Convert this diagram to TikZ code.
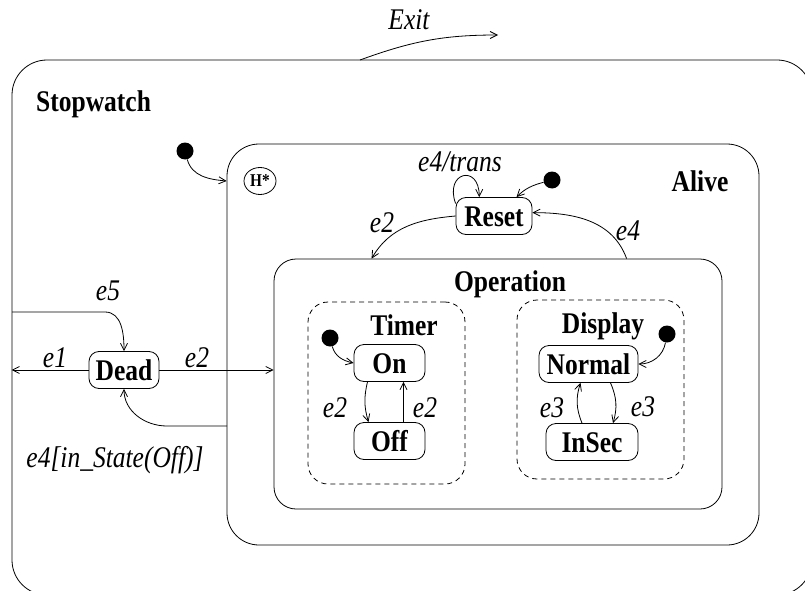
\documentclass[tikz,border=0pt]{standalone}
\usepackage{fontspec}
\newfontfamily\chartfont[FakeStretch=0.85]{Liberation Serif}
\usetikzlibrary{arrows.meta,shapes.geometric,fit,positioning}

\begin{document}
\begin{tikzpicture}[
    x=1pt, y=1pt,
    container/.style={draw, line width=0.8pt, inner sep=0pt},
    region/.style={draw, dash pattern=on 5pt off 4pt, line width=0.8pt, rounded corners=20pt, inner sep=0pt},
    statebox/.style={draw, line width=0.8pt, rounded corners=10pt, minimum height=37pt, inner xsep=6pt, inner ysep=0pt,
        text height=20pt, text depth=0pt, font=\fontsize{30}{30}\chartfont\bfseries},
    history/.style={ellipse, draw, line width=0.8pt, minimum width=32pt, minimum height=27pt, inner sep=0pt,
        font=\fontsize{18}{18}\chartfont\bfseries},
    title/.style={inner sep=0pt, text height=20pt, text depth=0pt, font=\fontsize{30}{30}\chartfont\bfseries},
    event/.style={inner sep=0pt, text height=20pt, text depth=0pt, font=\fontsize{30}{30}\chartfont\itshape},
    startdot/.style={circle, fill=black, minimum size=17pt, inner sep=0pt},
    trans/.style={->, >={Straight Barb[length=7pt,width=7pt]}, line width=0.8pt}
]
\useasboundingbox (0,0) rectangle (805,-591);
\clip (0,0) rectangle (805,-591);

% nested superstates
\node[container, rounded corners=35pt, fit={(12,-60) (812,-595)}] (stopwatch) {};
\node[container, rounded corners=32pt, fit={(227,-144) (759,-545)}] (alive) {};
\node[container, rounded corners=22pt, fit={(274,-259) (722,-509)}] (operation) {};
\node[region, fit={(308,-302) (465,-484)}] (timer) {};
\node[region, fit={(517,-300) (684,-479)}] (display) {};

% superstate titles
\node[title, anchor=west] (stopwatch_title) at (36,-102) {Stopwatch};
\node[title] (alive_title) at (700,-181) {Alive};
\node[title] (operation_title) at (510,-281) {Operation};
\node[title] (timer_title) at (404,-325) {Timer};
\node[title] (display_title) at (603,-323) {Display};

% basic states
\node[statebox, minimum width=70pt] (dead) at (124,-370) {Dead};
\node[statebox, minimum width=76pt] (reset) at (494,-216) {Reset};
\node[statebox, minimum width=71pt] (on) at (389.5,-363) {On};
\node[statebox, minimum width=71pt] (off) at (389.5,-441) {Off};
\node[statebox, minimum width=99pt] (normal) at (588.5,-364) {Normal};
\node[statebox, minimum width=92pt] (insec) at (592,-442) {InSec};
\node[history] (hist) at (260,-181) {H*};

% default entries
\node[startdot] (init_alive) at (185,-151) {};
\node[startdot] (init_reset) at (552,-180) {};
\node[startdot] (init_timer) at (330,-338) {};
\node[startdot] (init_display) at (667,-334) {};

% loose ends on the outer border
\coordinate (exit_from) at (360,-60);
\coordinate (exit_to) at (498,-35);
\coordinate (e5_from) at (12,-312);
\coordinate (e4_from) at (227,-426);

% transitions
\draw[trans] (exit_from) to[out=20,in=180] (exit_to);
\draw[trans] (init_alive) to[out=-75,in=175] (alive.west |- hist.west);
\draw[trans] (init_reset) to[out=195,in=45] (reset.40);
\draw[trans] (reset.162) to[out=110,in=90,looseness=3.5] (reset.128);
\draw[trans] (reset.west) to[out=185,in=60] ([xshift=98pt]operation.north west);
\draw[trans] ([xshift=353pt]operation.north west) to[out=110,in=0] (reset.5);
\draw[trans] (e5_from) -- ++(93,0) to[out=0,in=90] (dead.north);
\draw[trans] (dead.west) -- (dead.west -| stopwatch.west);
\draw[trans] (dead.east) -- (dead.east -| operation.west);
\draw[trans] (e4_from) -- ++(-60,0) to[out=180,in=-90] (dead.south);
\draw[trans] (init_timer) to[out=-75,in=168] (on.west);
\draw[trans] ([xshift=-22pt]on.south) to[bend right=15] ([xshift=-21pt]off.north);
\draw[trans] ([xshift=14pt]off.north) -- ([xshift=14pt]on.south);
\draw[trans] (init_display) to[out=-100,in=0] (normal.east);
\draw[trans] ([xshift=22pt]normal.south) to[bend left=20] ([xshift=21pt]insec.north);
\draw[trans] ([xshift=-10pt]insec.north) to[bend left=20] ([xshift=-8pt]normal.south);

% transition labels
\node[event] (exit_label) at (409,-20) {Exit};
\node[event] (trans_label) at (460,-161) {e4/trans};
\node[event] (e2_reset_label) at (382,-222) {e2};
\node[event] (e4_reset_label) at (628,-230) {e4};
\node[event] (e5_label) at (108,-290) {e5};
\node[event] (e1_label) at (55,-357) {e1};
\node[event] (e2_dead_label) at (197,-357) {e2};
\node[event] (e4_dead_label) at (115,-457) {e4[in\_State(Off)]};
\node[event] (e2_on_label) at (335,-407) {e2};
\node[event] (e2_off_label) at (425,-407) {e2};
\node[event] (e3_insec_label) at (552,-407) {e3};
\node[event] (e3_normal_label) at (643,-406) {e3};

\end{tikzpicture}
\end{document}
